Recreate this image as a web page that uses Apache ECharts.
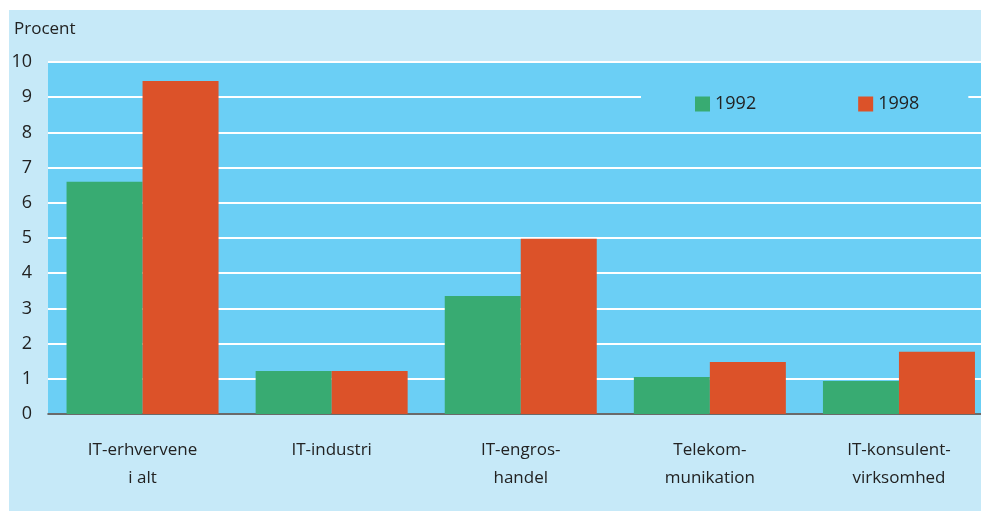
<!DOCTYPE html>
<html>
<head>
<meta charset="utf-8">
<script src="https://cdn.jsdelivr.net/npm/echarts@6/dist/echarts.min.js"></script>
<style>
html,body{margin:0;padding:0;background:#ffffff;overflow:hidden;width:981px;height:511px;}
#bg{position:absolute;left:9px;top:10px;width:972px;height:501px;background:#c6e9f8;}
#chart{position:absolute;left:0;top:0;width:994px;height:511px;}
</style>
</head>
<body>
<div id="bg"></div>
<div id="chart"></div>
<script>
const categories = ['IT-erhvervene\ni alt', 'IT-industri', 'IT-engros-\nhandel', 'Telekom-\nmunikation', 'IT-konsulent-\nvirksomhed'];
const seriesNames = ['1992', '1998'];
const values1992 = [6.6, 1.22, 3.35, 1.05, 0.94];
const values1998 = [9.46, 1.22, 4.98, 1.48, 1.77];
const yTicks = { min: 0, max: 10, interval: 1 };

const FONT = 'Open Sans';
const chart = echarts.init(document.getElementById('chart'), null, { renderer: 'canvas' });
chart.setOption({
  backgroundColor: 'transparent',
  animation: false,
  textStyle: { fontFamily: FONT, color: '#222' },
  title: {
    text: 'Procent', left: 9, top: 16,
    textStyle: { fontFamily: FONT, fontSize: 17, fontWeight: 'normal', color: '#222' }
  },
  legend: {
    data: seriesNames,
    left: 641, top: 85,
    padding: [10, 49, 10, 54],
    backgroundColor: '#6bcff5',
    itemWidth: 15, itemHeight: 15, itemGap: 102,
    icon: 'rect',
    textStyle: { fontFamily: FONT, fontSize: 18, color: '#222' }
  },
  grid: {
    left: 48, top: 62, bottom: 97, right: 0.5,
    show: true, backgroundColor: '#6bcff5', borderWidth: 0,
    containLabel: false
  },
  xAxis: {
    type: 'category', data: categories,
    axisLine: { lineStyle: { color: '#3a3a3a', width: 1.5 } },
    axisTick: { show: false },
    axisLabel: { fontFamily: FONT, fontSize: 17, color: '#222', margin: 22, lineHeight: 28 }
  },
  yAxis: {
    type: 'value', min: yTicks.min, max: yTicks.max, interval: yTicks.interval,
    axisLine: { show: false }, axisTick: { show: false },
    axisLabel: { fontFamily: FONT, fontSize: 18, color: '#222', margin: 16 },
    splitLine: { lineStyle: { color: '#ffffff', width: 2 } }
  },
  series: [
    { name: seriesNames[0], type: 'bar', data: values1992, barWidth: 76, barGap: '0%', itemStyle: { color: '#38ab72' } },
    { name: seriesNames[1], type: 'bar', data: values1998, barWidth: 76, barGap: '0%', itemStyle: { color: '#dc5229' } }
  ]
});
</script>
</body>
</html>
